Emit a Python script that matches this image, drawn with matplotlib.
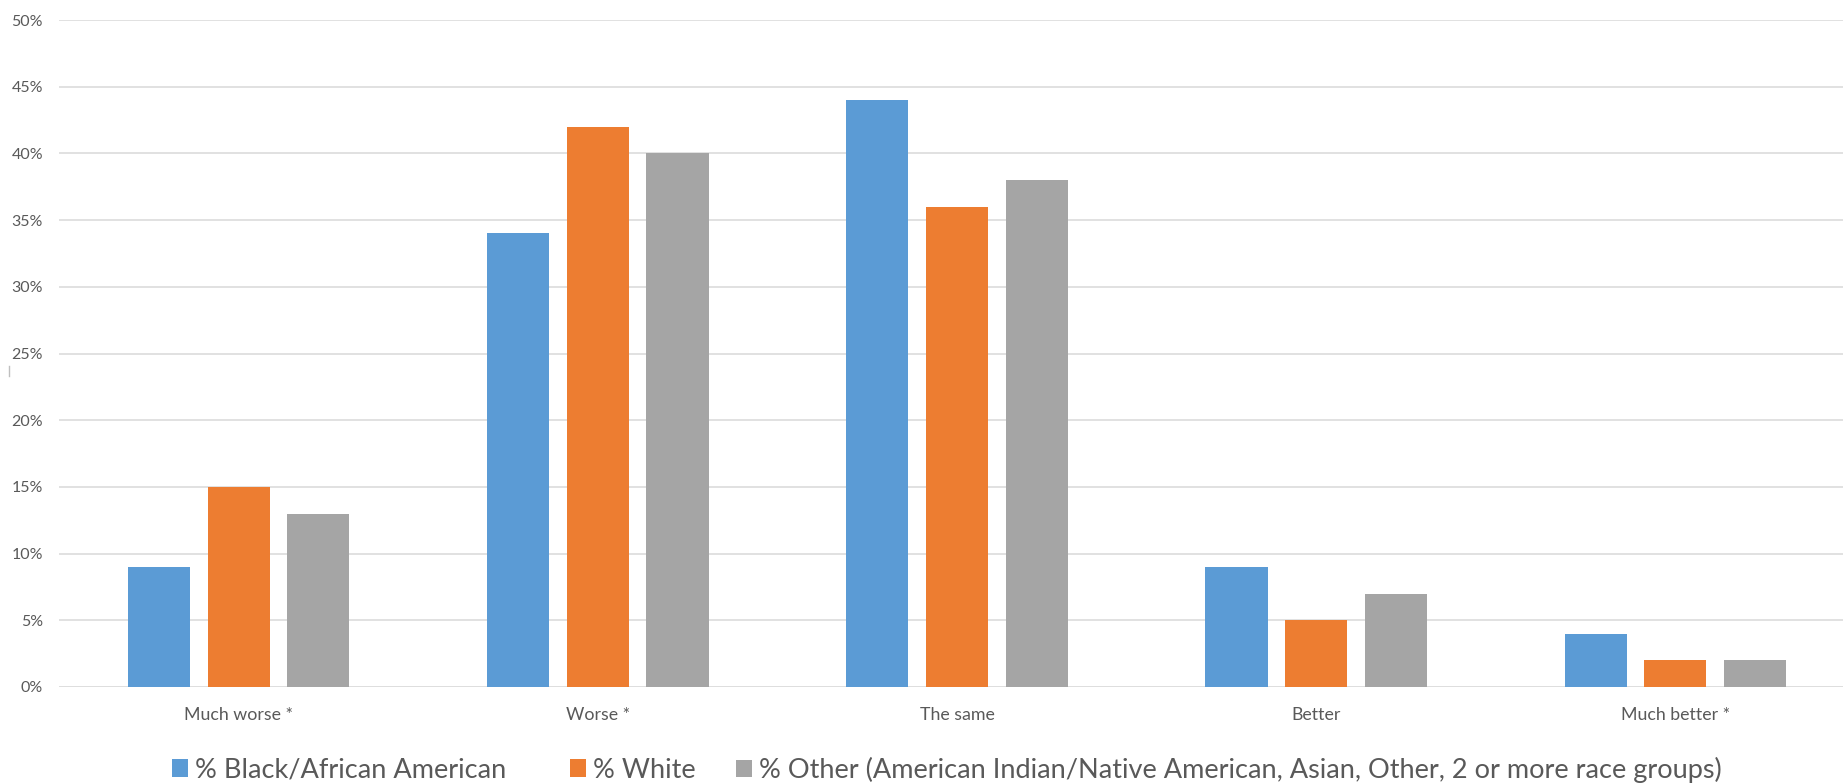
import matplotlib
matplotlib.use("Agg")
import matplotlib.pyplot as plt
import numpy as np
from matplotlib.patches import Patch
from matplotlib.lines import Line2D

categories = ["Much worse *", "Worse *", "The same", "Better", "Much better *"]
series_names = [
    "% Black/African American",
    "% White",
    "% Other (American Indian/Native American, Asian, Other, 2 or more race groups)",
]
black_values = [9, 34, 44, 9, 4]
white_values = [15, 42, 36, 5, 2]
other_values = [13, 40, 38, 7, 2]
y_ticks = [0, 5, 10, 15, 20, 25, 30, 35, 40, 45, 50]

colors = ["#5B9BD5", "#ED7D31", "#A5A5A5"]
text_color = "#595959"
grid_color = "#DEDEDE"

plt.rcParams["font.family"] = ["Lato", "DejaVu Sans"]

W, H = 1843, 783
fig = plt.figure(figsize=(W / 100, H / 100), dpi=100)
left_px, right_px, top_px, bottom_px = 59, 1855, 20, 687
ax = fig.add_axes([left_px / W, 1 - bottom_px / H,
                   (right_px - left_px) / W, (bottom_px - top_px) / H])

x = np.arange(len(categories))
bar_w = 0.173
step = 0.222
for i, (vals, c, name) in enumerate(zip([black_values, white_values, other_values],
                                        colors, series_names)):
    ax.bar(x + (i - 1) * step, vals, width=bar_w, color=c, label=name, zorder=3)

ax.set_xlim(-0.5, len(categories) - 0.5)
ax.set_ylim(0, 50)
ax.set_yticks(y_ticks)
ax.set_yticklabels([f"{t}%" for t in y_ticks])
ax.set_xticks(x)
ax.set_xticklabels(categories)
ax.yaxis.grid(True, color=grid_color, linewidth=1.3, zorder=0)
ax.set_axisbelow(True)
for s in ax.spines.values():
    s.set_visible(False)
ax.tick_params(axis="both", length=0)
ax.tick_params(axis="y", labelsize=11.5, labelcolor=text_color, pad=11.5)
ax.tick_params(axis="x", labelsize=12.8, labelcolor=text_color, pad=14.5)
ax.axhline(0, color=grid_color, linewidth=1.3, zorder=1)

# legend entries placed individually along the bottom
legend_left_px = [172, 570, 736]
for name, c, lx in zip(series_names, colors, legend_left_px):
    fig.legend([Patch(facecolor=c, edgecolor="none")], [name],
               loc="center left", bbox_to_anchor=(lx / W, 1 - 770 / H),
               frameon=False, fontsize=19.5, labelcolor=text_color,
               handlelength=0.6, handleheight=0.6, handletextpad=0.25,
               borderpad=0, borderaxespad=0)

# small stray tick at the left edge
fig.add_artist(Line2D([9 / W, 9 / W], [1 - 366 / H, 1 - 376 / H],
                      color="#BFBFBF", linewidth=1))

fig.savefig("out.png", dpi=100)
